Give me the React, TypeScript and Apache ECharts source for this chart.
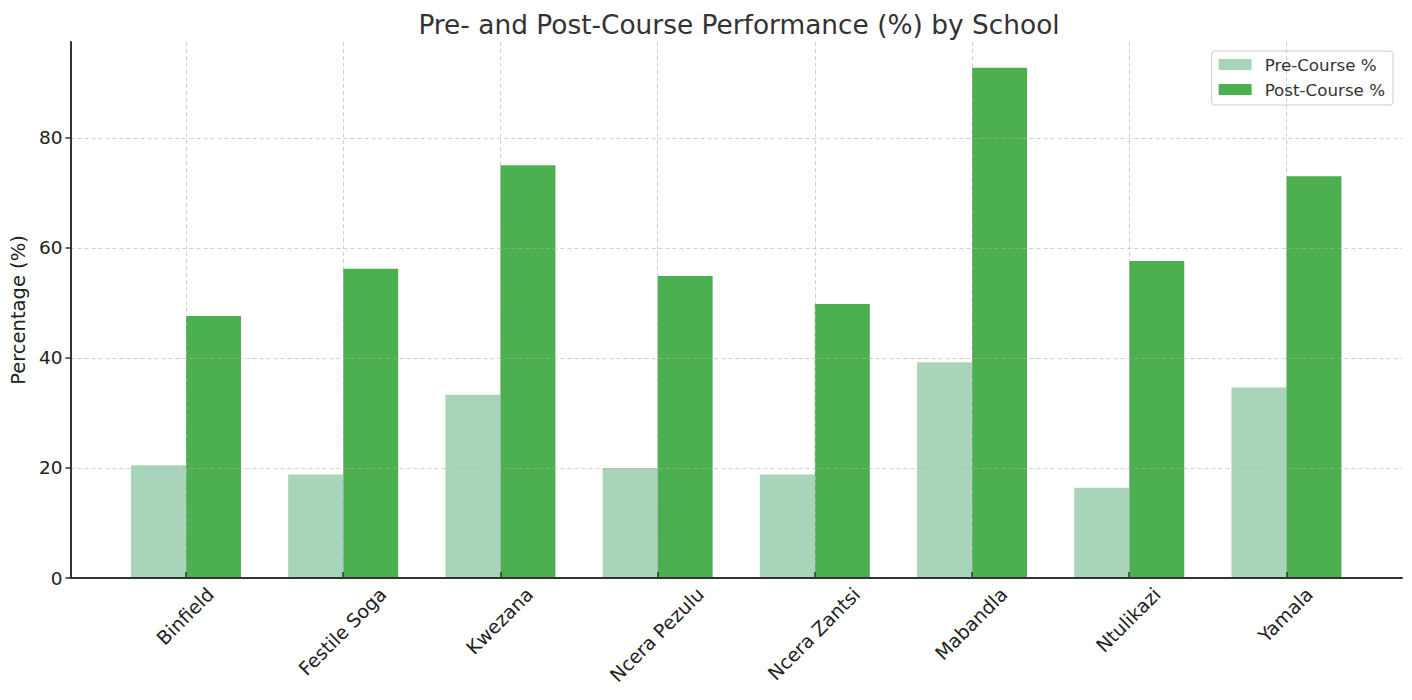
import * as echarts from "echarts";
import { useEffect, useRef } from "react";

const schools = [
  "Binfield",
  "Festile Soga",
  "Kwezana",
  "Ncera Pezulu",
  "Ncera Zantsi",
  "Mabandla",
  "Ntulikazi",
  "Yamala",
];
const preCourse = [20.5, 18.8, 33.3, 20.0, 18.8, 39.2, 16.4, 34.6];
const postCourse = [47.6, 56.2, 75.0, 54.9, 49.8, 92.7, 57.6, 73.0];
const yTicks = [0, 20, 40, 60, 80];

const FONT = "DejaVu Sans, Verdana, sans-serif";
const X_LABEL_SIZE = 19;

// matplotlib centres the rotated label's bounding box under the tick
function measure(text: string, size: number) {
  const ctx = document.createElement("canvas").getContext("2d");
  if (!ctx) return text.length * size * 0.6;
  ctx.font = `${size}px "DejaVu Sans"`;
  return ctx.measureText(text).width;
}

export default function App() {
  const chartRef = useRef<HTMLDivElement>(null);

  useEffect(() => {
    if (!chartRef.current) return;
    document.body.style.margin = "0";

    const chart = echarts.init(chartRef.current, null, { renderer: "svg" });
    const positions = schools.map((_, i) => i);

    const gridLine = {
      show: true,
      lineStyle: { color: "rgba(176,176,176,0.6)", type: [4, 3], width: 1 },
    };

    chart.setOption({
      animation: false,
      textStyle: { fontFamily: FONT },
      title: {
        text: "Pre- and Post-Course Performance (%) by School",
        left: 734,
        textAlign: "center",
        top: 6,
        textStyle: { fontSize: 26.4, fontWeight: "normal", color: "#333", fontFamily: FONT },
      },
      legend: {
        orient: "vertical",
        right: 19,
        top: 51,
        itemWidth: 33,
        itemHeight: 11,
        itemGap: 8,
        padding: [5, 8, 7, 7],
        borderColor: "#cccccc",
        borderWidth: 1,
        borderRadius: 3,
        icon: "rect",
        textStyle: { fontSize: 16.7, color: "#333", fontFamily: FONT, padding: [0, 0, 0, 8] },
        data: ["Pre-Course %", "Post-Course %"],
      },
      grid: { left: 70, right: 10, top: 42, bottom: 122 },
      xAxis: {
        type: "value",
        min: -0.735,
        max: 7.735,
        z: 3,
        axisLine: { show: true, onZero: false, lineStyle: { color: "#333", width: 2 } },
        axisTick: {
          show: true,
          inside: true,
          length: 6,
          customValues: positions,
          lineStyle: { color: "#333", width: 1.5 },
        },
        axisLabel: { show: false, customValues: positions },
        splitLine: gridLine,
      },
      yAxis: {
        type: "value",
        min: 0,
        max: 97.4,
        z: 3,
        name: "Percentage (%)",
        nameLocation: "middle",
        nameGap: 38,
        nameTextStyle: { fontSize: 19.5, color: "#222", fontFamily: FONT },
        axisLine: { show: true, onZero: false, lineStyle: { color: "#333", width: 2 } },
        axisTick: {
          show: true,
          length: 5,
          customValues: yTicks,
          lineStyle: { color: "#333", width: 1.5 },
        },
        axisLabel: {
          customValues: yTicks,
          margin: 8,
          fontSize: 18.5,
          color: "#222",
          fontFamily: FONT,
        },
        splitLine: gridLine,
      },
      series: [
        {
          name: "Pre-Course %",
          type: "bar",
          barWidth: 55,
          barGap: "0%",
          itemStyle: { color: "#a8d5ba" },
          data: preCourse.map((v, i) => [i, v]),
        },
        {
          name: "Post-Course %",
          type: "bar",
          barWidth: 55,
          barGap: "0%",
          itemStyle: { color: "#4caf50" },
          data: postCourse.map((v, i) => [i, v]),
        },
      ],
    });

    // category labels, rotated 45 degrees, placed from the axis scale
    const axisY = chart.convertToPixel({ yAxisIndex: 0 }, 0) as number;
    const lineH = X_LABEL_SIZE * 1.16;
    chart.setOption({
      graphic: schools.map((name, i) => {
        const x = chart.convertToPixel({ xAxisIndex: 0 }, i) as number;
        const w = measure(name, X_LABEL_SIZE);
        const half = (w + lineH) / (2 * Math.SQRT2);
        return {
          type: "text",
          x: x - 1,
          y: axisY + 5 + half,
          rotation: Math.PI / 4,
          style: {
            text: name,
            align: "center",
            verticalAlign: "middle",
            fontSize: X_LABEL_SIZE,
            fontFamily: FONT,
            fill: "#222",
          },
        };
      }),
    });

    const handleResize = () => chart.resize();
    window.addEventListener("resize", handleResize);
    return () => {
      window.removeEventListener("resize", handleResize);
      chart.dispose();
    };
  }, []);

  return <div ref={chartRef} style={{ width: "1412px", height: "700px" }} />;
}
